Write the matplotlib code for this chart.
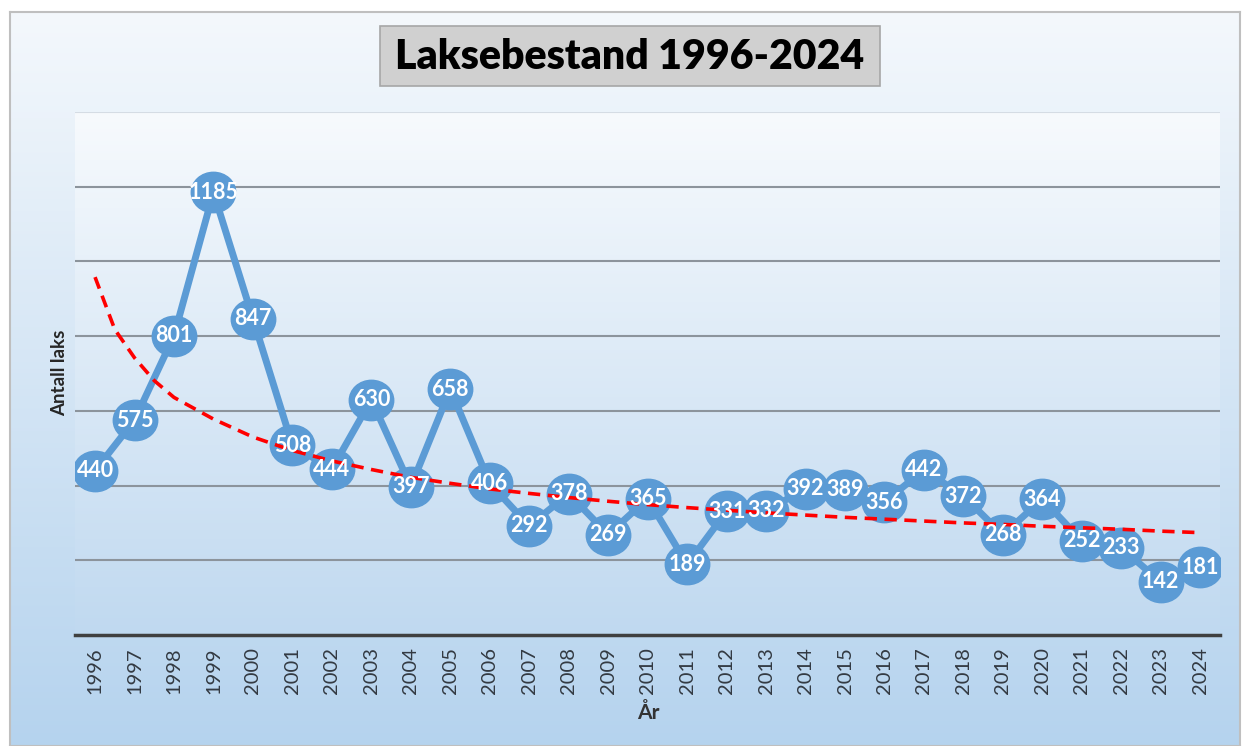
import matplotlib
matplotlib.use('Agg')
import matplotlib.pyplot as plt
import numpy as np
from matplotlib.patches import Rectangle
from matplotlib.path import Path
from matplotlib.markers import MarkerStyle
from matplotlib.transforms import Affine2D

plt.rcParams['font.family'] = ['Lato', 'DejaVu Sans']

# ---- data ----
years = list(range(1996, 2025))
laks = [440, 575, 801, 1185, 847, 508, 444, 630, 397, 658, 406, 292, 378, 269,
        365, 189, 331, 332, 392, 389, 356, 442, 372, 268, 364, 252, 233, 142, 181]

# trend line (red dashed)
trend_x = [1996, 1996.5, 1997, 1997.5, 1998, 1999, 2000, 2001, 2002, 2003, 2004,
           2005, 2006, 2007, 2008, 2009, 2010, 2011, 2012, 2013, 2014, 2015, 2016,
           2017, 2018, 2019, 2020, 2021, 2022, 2023, 2024]
trend_y = [958, 818, 742, 681, 636, 578, 530, 494, 466, 443, 422,
           406, 391, 379, 368, 358, 349, 341, 334, 327, 321, 315, 310,
           305, 300, 296, 291, 287, 283, 278, 274]

title = 'Laksebestand 1996-2024'
ylabel = 'Antall laks'
xlabel = 'År'
grid_vals = [200, 400, 600, 800, 1000, 1200]

W, H = 1246, 746
fig = plt.figure(figsize=(W / 100, H / 100), dpi=100)
fig.patch.set_facecolor('white')


def gradient(ax, top, bottom, z=0):
    n = 256
    t = np.linspace(0, 1, n)[:, None, None]
    top = np.array(top, float)[None, None, :] / 255
    bottom = np.array(bottom, float)[None, None, :] / 255
    img = top * (1 - t) + bottom * t
    ax.imshow(img, extent=[0, 1, 0, 1], transform=ax.transAxes,
              aspect='auto', origin='upper', zorder=z, interpolation='bilinear')


# chart frame background
bg = fig.add_axes([10 / W, 0, 1230 / W, (H - 12) / H], zorder=-2)
gradient(bg, (244, 248, 252), (181, 211, 238))
bg.set_xlim(0, 1); bg.set_ylim(0, 1)
bg.set_xticks([]); bg.set_yticks([])
for s in bg.spines.values():
    s.set_color('#BFBFBF'); s.set_linewidth(1.5)

# main plot area
left, right, top_px, bot_px = 75.3, 1220, 112, 635
ax = fig.add_axes([left / W, 1 - bot_px / H, (right - left) / W, (bot_px - top_px) / H], zorder=1)
gradient(ax, (247, 250, 253), (192, 217, 240), z=0)

for g in grid_vals:
    ax.axhline(g, color='#8C949C', lw=1.5, zorder=1)
ax.axhline(1400, color='#D5DCE4', lw=1.5, zorder=1)

ax.plot(years, laks, color='#5B9BD5', lw=5, zorder=3, solid_joinstyle='round')
ell = Path.unit_circle().transformed(Affine2D().scale(1.1, 1.0))
ax.plot(years, laks, linestyle='none', marker=MarkerStyle(ell), markersize=32,
        markerfacecolor='#5B9BD5', markeredgecolor='#5B9BD5', zorder=4)

ax.plot(trend_x, trend_y, color='#FF0000', lw=2.6, linestyle=(0, (3.4, 2.1)),
        dash_capstyle='butt', zorder=5)

for x, v in zip(years, laks):
    ax.text(x, v, str(v), ha='center', va='center', color='white',
            fontweight='bold', fontsize=15.5, zorder=6)

ax.set_xlim(1995.5, 2024.5)
ax.set_ylim(0, 1400)
ax.set_yticks([])
ax.set_xticks(years)
ax.set_xticklabels([str(y) for y in years], rotation=90, fontsize=14.5, color='#333A42')
ax.tick_params(axis='x', length=0, pad=9)
for k in ['top', 'right', 'left']:
    ax.spines[k].set_visible(False)
ax.spines['bottom'].set_color('#404040')
ax.spines['bottom'].set_linewidth(2.5)
ax.spines['bottom'].set_zorder(2)
ax.set_facecolor('none')

# axis titles
fig.text(60 / W, 1 - 373 / H, ylabel, rotation=90, ha='center', va='center',
         fontweight='bold', fontsize=13.5, color='#262626')
fig.text(648 / W, 1 - 713 / H, xlabel, ha='center', va='center',
         fontweight='bold', fontsize=15, color='#333333')

# title box
fig.patches.append(Rectangle((380 / W, 1 - 86 / H), 500 / W, 60 / H,
                             transform=fig.transFigure, facecolor='#D0D0D0',
                             edgecolor='#A6A6A6', lw=1.2, zorder=3))
fig.text(630 / W, 1 - 57 / H, title, ha='center', va='center',
         fontweight='heavy', fontsize=29.5, color='black', zorder=4)

fig.savefig('out.png', dpi=100)
